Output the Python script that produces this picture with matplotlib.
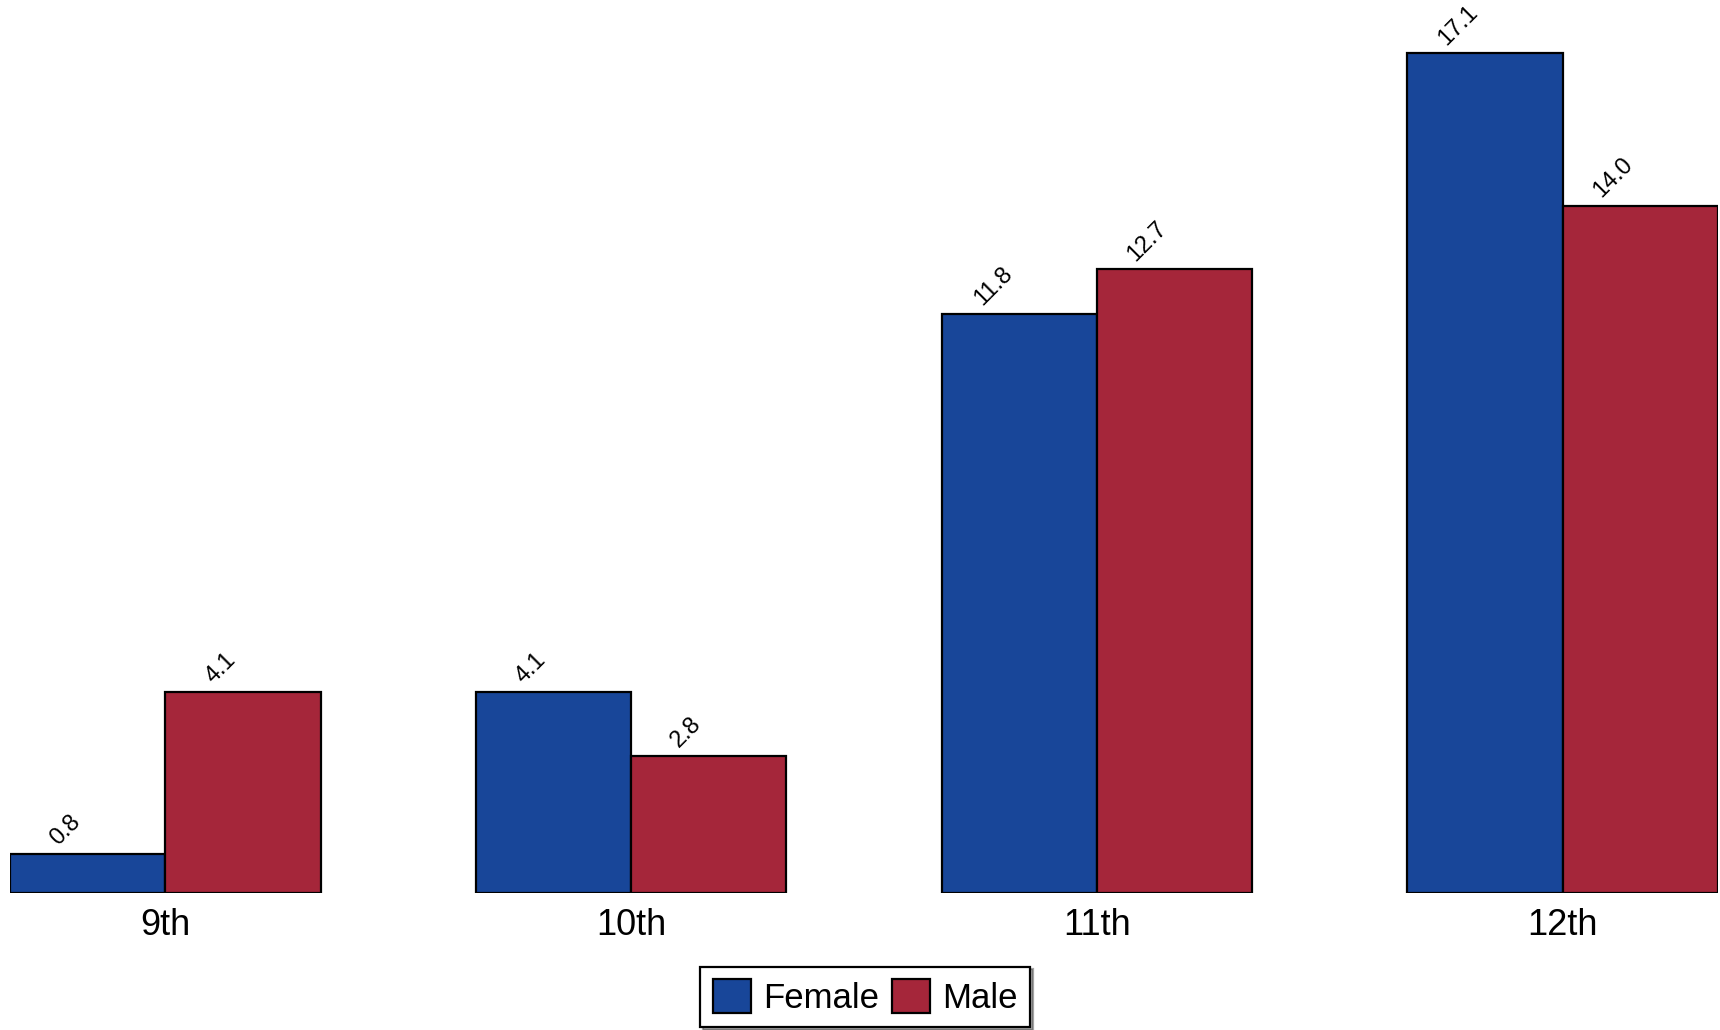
import numpy as np
import matplotlib
matplotlib.use("Agg")
import matplotlib.pyplot as plt

plt.rcParams['font.family'] = ['Liberation Sans', 'DejaVu Sans']

grades = ["9th", "10th", "11th", "12th"]
female = [0.8, 4.1, 11.8, 17.1]
male = [4.1, 2.8, 12.7, 14.0]

blue = "#184699"
red = "#a5263a"

fig = plt.figure(figsize=(17.2, 10.3), dpi=100)
ax = fig.add_axes([10 / 1720, 1 - 893 / 1030, 1708 / 1720, 893 / 1030])

x = np.arange(len(grades))
w = 1 / 3
b1 = ax.bar(x - w / 2, female, w, color=blue, edgecolor="black", linewidth=1.6, label="Female")
b2 = ax.bar(x + w / 2, male, w, color=red, edgecolor="black", linewidth=1.6, label="Male")

# rotated value labels above each bar
for bars, vals in ((b1, female), (b2, male)):
    for r, v in zip(bars, vals):
        ax.annotate(f"{v:.1f}", (r.get_x() + r.get_width() / 2, r.get_height()),
                    xytext=(-2, 3), textcoords="offset points",
                    rotation=45, ha="right", va="bottom", fontsize=17)

ax.set_xlim(-w, 3 + w)
ax.set_ylim(0, 893 / 49.1)
ax.set_xticks(x)
ax.set_xticklabels(grades, fontsize=26)
ax.tick_params(axis="x", length=0, pad=11)
ax.set_yticks([])
for s in ax.spines.values():
    s.set_visible(False)

leg = fig.legend(loc="lower center", bbox_to_anchor=(0.503, 0.003), ncol=2, fontsize=25,
                 handlelength=1.1, handleheight=1.15, handletextpad=0.35,
                 columnspacing=0.37, borderpad=0.35, borderaxespad=0,
                 fancybox=False, shadow=True, edgecolor="black", framealpha=1)
leg.get_frame().set_linewidth(1.6)

fig.savefig("out.png", dpi=100)
